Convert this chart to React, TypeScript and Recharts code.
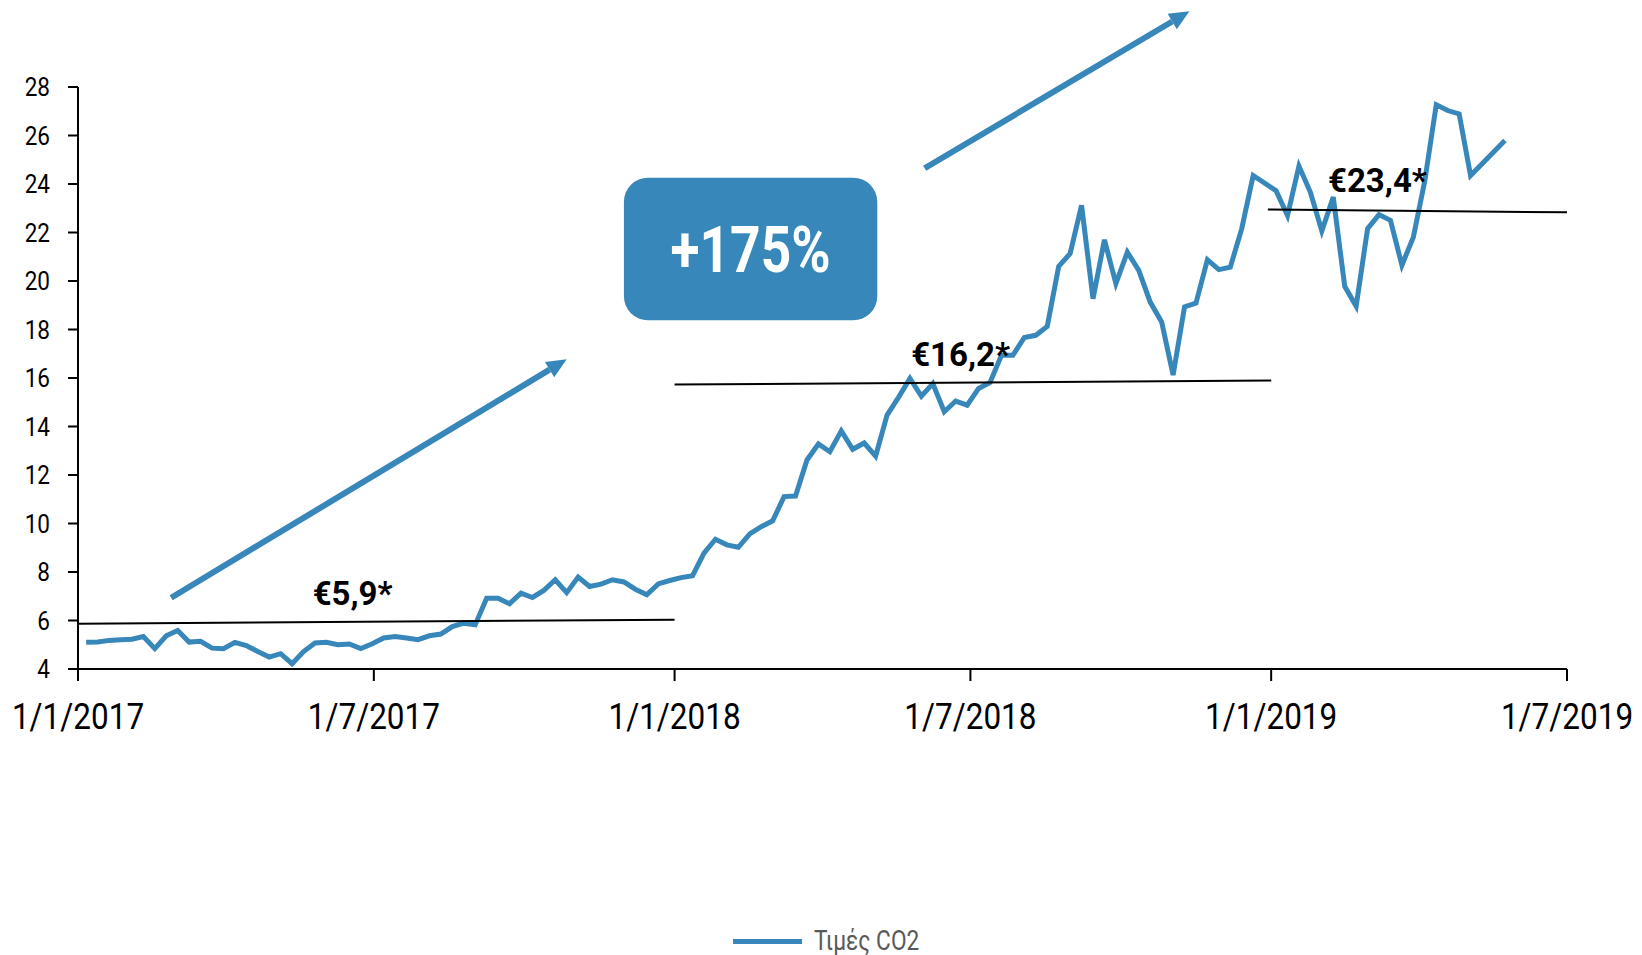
import { LineChart, Line, XAxis, YAxis, ReferenceLine, ReferenceDot, ReferenceArea } from 'recharts';

const BLUE = '#3787ba';

// weekly CO2 (EUA) prices, Fridays, €/t
const dates = [
  '2017-01-06', '2017-01-13', '2017-01-20', '2017-01-27', '2017-02-03', '2017-02-10', '2017-02-17', '2017-02-24',
  '2017-03-03', '2017-03-10', '2017-03-17', '2017-03-24', '2017-03-31', '2017-04-07', '2017-04-14', '2017-04-21',
  '2017-04-28', '2017-05-05', '2017-05-12', '2017-05-19', '2017-05-26', '2017-06-02', '2017-06-09', '2017-06-16',
  '2017-06-23', '2017-06-30', '2017-07-07', '2017-07-14', '2017-07-21', '2017-07-28', '2017-08-04', '2017-08-11',
  '2017-08-18', '2017-08-25', '2017-09-01', '2017-09-08', '2017-09-15', '2017-09-22', '2017-09-29', '2017-10-06',
  '2017-10-13', '2017-10-20', '2017-10-27', '2017-11-03', '2017-11-10', '2017-11-17', '2017-11-24', '2017-12-01',
  '2017-12-08', '2017-12-15', '2017-12-22', '2017-12-29', '2018-01-05', '2018-01-12', '2018-01-19', '2018-01-26',
  '2018-02-02', '2018-02-09', '2018-02-16', '2018-02-23', '2018-03-02', '2018-03-09', '2018-03-16', '2018-03-23',
  '2018-03-30', '2018-04-06', '2018-04-13', '2018-04-20', '2018-04-27', '2018-05-04', '2018-05-11', '2018-05-18',
  '2018-05-25', '2018-06-01', '2018-06-08', '2018-06-15', '2018-06-22', '2018-06-29', '2018-07-06', '2018-07-13',
  '2018-07-20', '2018-07-27', '2018-08-03', '2018-08-10', '2018-08-17', '2018-08-24', '2018-08-31', '2018-09-07',
  '2018-09-14', '2018-09-21', '2018-09-28', '2018-10-05', '2018-10-12', '2018-10-19', '2018-10-26', '2018-11-02',
  '2018-11-09', '2018-11-16', '2018-11-23', '2018-11-30', '2018-12-07', '2018-12-14', '2018-12-21', '2019-01-04',
  '2019-01-11', '2019-01-18', '2019-01-25', '2019-02-01', '2019-02-08', '2019-02-15', '2019-02-22', '2019-03-01',
  '2019-03-08', '2019-03-15', '2019-03-22', '2019-03-29', '2019-04-05', '2019-04-12', '2019-04-19', '2019-04-26',
  '2019-05-03', '2019-05-24',
];

const prices = [
  5.10, 5.11, 5.18, 5.21, 5.23, 5.34, 4.84, 5.37,
  5.59, 5.11, 5.14, 4.86, 4.84, 5.10, 4.97, 4.72,
  4.49, 4.63, 4.22, 4.72, 5.07, 5.10, 5.00, 5.03,
  4.84, 5.04, 5.28, 5.34, 5.28, 5.21, 5.37, 5.44,
  5.75, 5.89, 5.82, 6.92, 6.92, 6.69, 7.13, 6.95,
  7.24, 7.68, 7.15, 7.79, 7.40, 7.50, 7.68, 7.59,
  7.29, 7.06, 7.51, 7.65, 7.77, 7.85, 8.78, 9.35,
  9.12, 9.02, 9.57, 9.87, 10.11, 11.11, 11.13, 12.62,
  13.28, 12.96, 13.82, 13.06, 13.32, 12.78, 14.47, 15.20,
  15.98, 15.25, 15.77, 14.61, 15.05, 14.88, 15.57, 15.82,
  16.94, 16.94, 17.67, 17.76, 18.13, 20.60, 21.13, 23.12,
  19.27, 21.70, 19.89, 21.19, 20.44, 19.13, 18.31, 16.12,
  18.93, 19.09, 20.88, 20.47, 20.57, 22.16, 24.35, 23.72,
  22.70, 24.74, 23.66, 22.06, 23.46, 19.78, 18.96, 22.16,
  22.74, 22.50, 20.65, 21.81, 24.13, 27.27, 27.03, 26.89,
  24.35, 25.79,
];

const xTickDates = ['2017-01-01', '2017-07-01', '2018-01-01', '2018-07-01', '2019-01-01', '2019-07-01'];
const xTickLabels = ['1/1/2017', '1/7/2017', '1/1/2018', '1/7/2018', '1/1/2019', '1/7/2019'];
const yTicks = [4, 6, 8, 10, 12, 14, 16, 18, 20, 22, 24, 26, 28];

// period averages drawn as slightly tilted segments
const averages = [
  { from: ['2017-01-01', 5.87], to: ['2018-01-01', 6.03], label: '€5,9*', at: ['2017-06-18', 6.65] },
  { from: ['2018-01-01', 15.73], to: ['2019-01-01', 15.9], label: '€16,2*', at: ['2018-06-25', 16.49] },
  { from: ['2018-12-30', 22.95], to: ['2019-07-01', 22.83], label: '€23,4*', at: ['2019-03-07', 23.69] },
];

const arrows = [
  { from: ['2017-02-27', 6.94], to: ['2017-10-27', 16.77] },
  { from: ['2018-06-03', 24.65], to: ['2018-11-12', 31.12] },
];

const t = (d: string) => Date.parse(d);
const data = dates.map((d, i) => ({ t: t(d), price: prices[i] }));
const xTicks = xTickDates.map(t);

const YTick = ({ x, y, payload }: any) => (
  <g transform={`translate(${x},${y})`}>
    <text transform="scale(0.85,1)" textAnchor="end" dy="0.355em" fontSize={26.5} fill="#000">
      {payload.value}
    </text>
  </g>
);

const XTick = ({ x, y, payload }: any) => (
  <g transform={`translate(${x},${y})`}>
    <text transform="scale(0.84,1)" textAnchor="middle" dy={48} fontSize={37.5} fill="#000">
      {xTickLabels[xTicks.indexOf(payload.value)]}
    </text>
  </g>
);

const Arrow = (p: any) => {
  const { x1, y1, x2, y2 } = p;
  const a = Math.atan2(y2 - y1, x2 - x1);
  const L = 20;
  const W = 9;
  const bx = x2 - L * Math.cos(a);
  const by = y2 - L * Math.sin(a);
  const nx = -Math.sin(a) * W;
  const ny = Math.cos(a) * W;
  return (
    <g>
      <line x1={x1} y1={y1} x2={bx} y2={by} stroke={BLUE} strokeWidth={6} />
      <polygon points={`${x2},${y2} ${bx + nx},${by + ny} ${bx - nx},${by - ny}`} fill={BLUE} />
    </g>
  );
};

const Badge = (p: any) => (
  <g>
    <rect x={p.x} y={p.y} width={p.width} height={p.height} rx={24} fill={BLUE} />
    <g transform={`translate(${p.x + p.width / 2},${p.y + p.height / 2})`}>
      <text transform="scale(0.82,1)" textAnchor="middle" dy="0.355em" fontSize={65} fontWeight={700} fill="#fff">
        +175%
      </text>
    </g>
  </g>
);

const avgLabel = (text: string) => (p: any) => (
  <text x={p.cx} y={p.cy} textAnchor="middle" fontSize={33} fontWeight={700} fill="#000">
    {text}
  </text>
);

export default function App() {
  return (
    <div style={{ position: 'absolute', left: 0, top: 0, width: 1642, height: 955, fontFamily: 'Roboto', background: '#fff' }}>
      <LineChart width={1642} height={955} data={data} margin={{ top: 87, right: 75, left: 0, bottom: 216 }}>
        <XAxis
          dataKey="t"
          type="number"
          domain={[xTicks[0], xTicks[xTicks.length - 1]]}
          ticks={xTicks}
          interval={0}
          height={70}
          tickSize={12}
          tickMargin={0}
          axisLine={{ stroke: '#000', strokeWidth: 2 }}
          tickLine={{ stroke: '#000', strokeWidth: 2 }}
          tick={XTick}
        />
        <YAxis
          type="number"
          domain={[4, 28]}
          ticks={yTicks}
          interval={0}
          width={78}
          tickSize={10}
          tickMargin={18}
          axisLine={{ stroke: '#000', strokeWidth: 2 }}
          tickLine={{ stroke: '#000', strokeWidth: 2 }}
          tick={YTick}
        />
        <Line
          type="linear"
          dataKey="price"
          name="Τιμές CO2"
          stroke={BLUE}
          strokeWidth={5}
          dot={false}
          isAnimationActive={false}
        />
        {averages.map((a, i) => (
          <ReferenceLine
            key={`avg${i}`}
            segment={[
              { x: t(a.from[0] as string), y: a.from[1] as number },
              { x: t(a.to[0] as string), y: a.to[1] as number },
            ]}
            stroke="#000"
            strokeWidth={2}
          />
        ))}
        {averages.map((a, i) => (
          <ReferenceDot key={`lbl${i}`} x={t(a.at[0] as string)} y={a.at[1] as number} r={0} shape={avgLabel(a.label)} />
        ))}
        {arrows.map((a, i) => (
          <ReferenceLine
            key={`arr${i}`}
            ifOverflow="visible"
            segment={[
              { x: t(a.from[0] as string), y: a.from[1] as number },
              { x: t(a.to[0] as string), y: a.to[1] as number },
            ]}
            shape={Arrow}
          />
        ))}
        <ReferenceArea x1={t('2017-12-01')} x2={t('2018-05-05')} y1={18.38} y2={24.26} shape={Badge} />
      </LineChart>
      <div style={{ position: 'absolute', left: 733, top: 926, height: 30, display: 'flex', alignItems: 'center' }}>
        <span style={{ display: 'inline-block', width: 69, height: 5, background: BLUE, marginRight: 12 }} />
        <span style={{ display: 'inline-block', fontSize: 27, color: '#595959', transform: 'scaleX(0.84)', transformOrigin: 'left center', whiteSpace: 'nowrap' }}>
          Τιμές CO2
        </span>
      </div>
    </div>
  );
}
